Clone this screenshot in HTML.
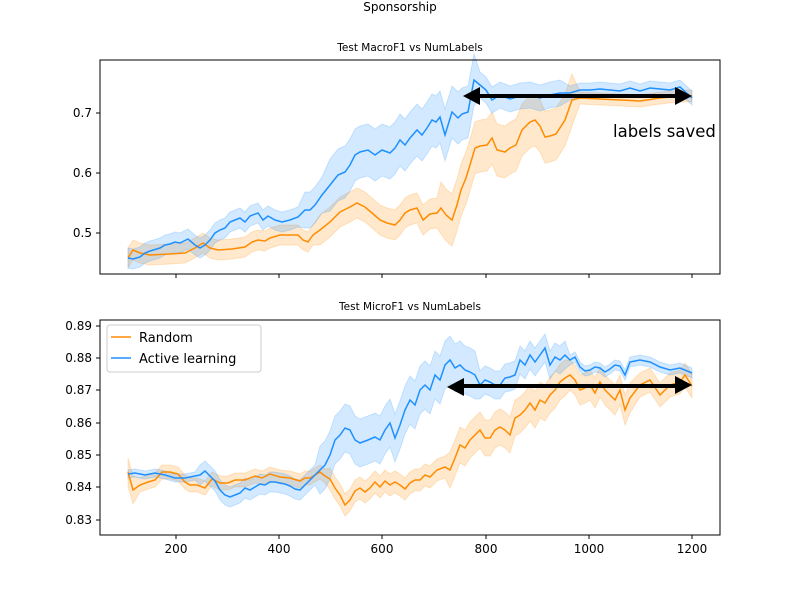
<!DOCTYPE html>
<html><head><style>
body{margin:0;background:#fff;}
svg text{font-family:"DejaVu Sans","Liberation Sans",sans-serif;}
</style></head><body>
<svg id="s" width="800" height="600" xmlns="http://www.w3.org/2000/svg">
<rect width="800" height="600" fill="#fff"/>
<text x="400" y="11" font-size="12" text-anchor="middle">Sponsorship</text>
<text x="410" y="51" font-size="10.5" text-anchor="middle">Test MacroF1 vs NumLabels</text>
<text x="410" y="310" font-size="10.5" text-anchor="middle">Test MicroF1 vs NumLabels</text>
<g id="g1"></g><g id="g2"></g>
<rect x="100" y="60" width="620" height="214" fill="none" stroke="#000" stroke-width="1"/>
<rect x="100" y="320" width="620" height="215" fill="none" stroke="#000" stroke-width="1"/>
<g font-size="12" text-anchor="end">
<line x1="100" y1="113" x2="96" y2="113" stroke="#000"/><text x="92" y="117">0.7</text>
<line x1="100" y1="173" x2="96" y2="173" stroke="#000"/><text x="92" y="177">0.6</text>
<line x1="100" y1="233" x2="96" y2="233" stroke="#000"/><text x="92" y="237">0.5</text>
<line x1="100" y1="326" x2="96" y2="326" stroke="#000"/><text x="92" y="330">0.89</text>
<line x1="100" y1="358" x2="96" y2="358" stroke="#000"/><text x="92" y="362">0.88</text>
<line x1="100" y1="390" x2="96" y2="390" stroke="#000"/><text x="92" y="394">0.87</text>
<line x1="100" y1="423" x2="96" y2="423" stroke="#000"/><text x="92" y="427">0.86</text>
<line x1="100" y1="455" x2="96" y2="455" stroke="#000"/><text x="92" y="459">0.85</text>
<line x1="100" y1="487" x2="96" y2="487" stroke="#000"/><text x="92" y="491">0.84</text>
<line x1="100" y1="520" x2="96" y2="520" stroke="#000"/><text x="92" y="524">0.83</text>
</g>
<g font-size="12" text-anchor="middle" stroke="#000">
<line x1="176" y1="274" x2="176" y2="278"/><line x1="279" y1="274" x2="279" y2="278"/><line x1="382" y1="274" x2="382" y2="278"/><line x1="486" y1="274" x2="486" y2="278"/><line x1="589" y1="274" x2="589" y2="278"/><line x1="692" y1="274" x2="692" y2="278"/>
<line x1="176" y1="535" x2="176" y2="539"/><line x1="279" y1="535" x2="279" y2="539"/><line x1="382" y1="535" x2="382" y2="539"/><line x1="486" y1="535" x2="486" y2="539"/><line x1="589" y1="535" x2="589" y2="539"/><line x1="692" y1="535" x2="692" y2="539"/>
</g>
<g font-size="12" text-anchor="middle">
<text x="176" y="553">200</text><text x="279" y="553">400</text><text x="382" y="553">600</text><text x="486" y="553">800</text><text x="589" y="553">1000</text><text x="692" y="553">1200</text>
</g>
<line x1="478" y1="96" x2="677" y2="96" stroke="#000" stroke-width="4"/>
<polygon points="463,96 480,87 480,105" fill="#000"/><polygon points="692,96 675,87 675,105" fill="#000"/>
<text x="613" y="137" font-size="16.5" font-family="Liberation Sans">labels saved</text>
<line x1="462" y1="386" x2="677" y2="386" stroke="#000" stroke-width="4"/>
<polygon points="447,387 464,378 464,396" fill="#000"/><polygon points="692,385 675,376 675,394" fill="#000"/>
<rect x="107" y="325" width="154" height="47" rx="3" fill="#fff" fill-opacity="0.8" stroke="#ccc"/>
<line x1="111" y1="337" x2="131" y2="337" stroke="#ff8c00" stroke-width="1.5"/>
<text x="139" y="342" font-size="13">Random</text>
<line x1="111" y1="358" x2="131" y2="358" stroke="#1e90ff" stroke-width="1.5"/>
<text x="139" y="363" font-size="13">Active learning</text>
</svg>
<script>
function P(s){return s.trim().split(/\)\s*,?\s*\(/).map(t=>t.replace(/[()]/g,'').split(',').map(Number));}
const o1=P("(128,258),(133,250),(140,253),(150,255),(170,254),(185,253),(195,248),(203,243),(210,248),(218,250),(232,249),(245,247),(252,242),(258,240),(265,241),(270,238),(280,235),(290,235),(298,235),(303,240),(308,242),(313,235),(320,230),(330,222),(340,212),(350,207),(357,203),(365,207),(372,213),(380,220),(387,223),(395,225),(400,220),(405,213),(410,210),(417,208),(423,220),(430,214),(437,213),(441,208),(446,215),(452,220),(457,205),(461,190),(466,178),(470,165),(475,148),(480,146),(487,145),(492,138),(497,150),(505,152),(510,148),(516,145),(522,130),(530,122),(535,120),(540,126),(545,137),(550,136),(556,134),(565,120),(572,100),(580,98),(600,99),(620,100),(640,101),(660,98),(680,96),(692,96)");
const b1=P("(128,258),(133,259),(140,257),(145,253),(150,251),(160,248),(165,245),(170,244),(175,242),(180,243),(188,239),(195,245),(200,248),(205,245),(210,240),(215,233),(220,230),(225,228),(230,222),(235,220),(240,218),(245,222),(250,216),(258,213),(263,220),(268,216),(275,220),(282,222),(290,220),(298,217),(305,210),(310,210),(315,205),(322,195),(330,185),(338,175),(345,172),(350,165),(355,155),(360,152),(368,150),(375,155),(382,150),(390,153),(395,148),(400,140),(405,145),(410,138),(417,130),(422,135),(427,128),(432,120),(436,122),(440,117),(445,135),(452,112),(458,118),(462,114),(468,112),(474,80),(480,85),(486,90),(492,100),(500,95),(510,99),(520,96),(530,95),(540,98),(550,95),(560,93),(570,93),(580,90),(590,90),(600,89),(610,90),(620,91),(630,88),(640,91),(650,88),(660,89),(670,90),(680,87),(692,98)");
const o2=P("(128,472),(133,490),(140,485),(148,482),(155,480),(162,472),(170,472),(178,474),(185,482),(190,485),(197,485),(205,488),(212,479),(220,483),(228,483),(235,480),(245,480),(255,476),(262,478),(270,474),(280,477),(290,478),(300,481),(305,478),(310,478),(315,475),(320,472),(325,476),(330,479),(335,488),(340,495),(345,505),(350,500),(355,491),(360,488),(365,492),(370,488),(375,482),(380,487),(385,481),(390,485),(395,482),(400,485),(405,489),(410,483),(415,480),(420,480),(425,475),(430,477),(437,470),(445,467),(450,470),(455,458),(460,445),(465,448),(470,440),(475,435),(480,430),(485,438),(490,438),(495,430),(500,427),(505,430),(510,435),(515,418),(520,415),(525,410),(530,403),(535,410),(540,400),(545,403),(550,395),(555,390),(560,382),(565,378),(570,375),(575,380),(580,390),(585,388),(590,385),(595,393),(600,382),(605,390),(610,395),(615,400),(620,390),(625,410),(630,398),(640,385),(650,380),(660,395),(670,385),(680,382),(685,375),(692,386)");
const b2=P("(128,474),(135,473),(145,475),(155,473),(165,475),(175,478),(185,478),(195,476),(200,475),(205,471),(210,476),(215,481),(220,490),(225,495),(230,497),(235,495),(240,493),(245,488),(250,490),(255,487),(260,484),(265,485),(270,482),(275,482),(285,484),(290,486),(295,489),(300,490),(305,485),(310,480),(315,475),(320,470),(325,465),(330,455),(335,440),(340,435),(345,428),(350,430),(355,440),(360,443),(368,440),(375,437),(380,440),(385,430),(390,423),(395,438),(400,425),(405,410),(410,400),(415,405),(420,390),(425,385),(430,390),(435,375),(440,380),(445,365),(450,360),(455,368),(460,365),(465,370),(470,372),(475,375),(480,385),(485,380),(490,382),(495,385),(500,385),(505,378),(510,377),(515,375),(520,360),(525,365),(530,355),(535,362),(540,355),(545,348),(550,365),(555,357),(560,360),(565,355),(570,360),(575,357),(580,367),(585,371),(590,370),(595,367),(600,368),(605,372),(610,369),(615,365),(620,366),(625,375),(630,362),(640,360),(650,362),(660,367),(670,370),(680,368),(692,373)");
function band(pts,wf,col){
 const up=pts.map(p=>[p[0],p[1]-wf(p[0])]),dn=pts.map(p=>[p[0],p[1]+wf(p[0])]).reverse();
 return `<polygon points="${up.concat(dn).map(p=>p.join(',')).join(' ')}" fill="${col}" fill-opacity="0.2" stroke="${col}" stroke-opacity="0.2"/>`;}
function line(pts,col){return `<polyline points="${pts.map(p=>p.join(',')).join(' ')}" fill="none" stroke="${col}" stroke-width="1.5"/>`;}
const O="#ff8c00",B="#1e90ff";
const wo1=x=>x<320?10:x<440?15:x<575?26:6, wb1=x=>x<300?10:x<330?18:x<480?26:x<570?13:7;
const wo2=x=>x<140?14:x<330?7:x<450?11:x<570?18:x<640?15:12, wb2=x=>x<200?4:x<320?10:x<480?24:x<570?14:5;
document.getElementById('g1').innerHTML=band(o1,wo1,O)+band(b1,wb1,B)+line(o1,O)+line(b1,B);
document.getElementById('g2').innerHTML=band(o2,wo2,O)+band(b2,wb2,B)+line(o2,O)+line(b2,B);
</script>
</body></html>
